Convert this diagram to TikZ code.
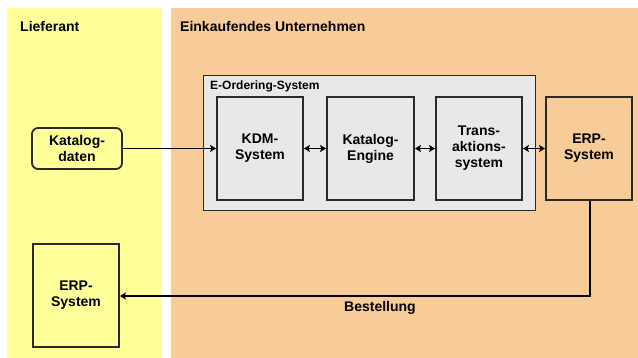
\documentclass[tikz,border=0pt]{standalone}
\usepackage{fontspec}
\setmainfont{Liberation Sans}
\usetikzlibrary{arrows.meta}
\definecolor{supplier}{HTML}{FFFF99}
\definecolor{buyer}{HTML}{F7CC98}
\definecolor{sysgray}{HTML}{E8E8E8}
\definecolor{edge}{HTML}{2A2A2A}
\tikzset{
  sysbox/.style={draw=edge, line width=1.8pt, minimum width=86pt, minimum height=103pt,
    align=center, font=\fontsize{14}{16}\selectfont\bfseries, inner sep=0pt},
  tip/.tip={Stealth[length=6pt,width=7pt,inset=1.2pt]},
  link/.style={draw=black, line width=1.5pt, -tip},
  dlink/.style={draw=black, line width=1.5pt, tip-tip},
  title/.style={anchor=west, font=\fontsize{14}{16}\selectfont\bfseries, inner sep=0pt}
}
\begin{document}
\begin{tikzpicture}[x=1pt, y=-1pt]
\useasboundingbox (0,0) rectangle (638,358);
% swim lanes
\fill[supplier] (7,8) rectangle (162,358);
\fill[buyer] (171,8) rectangle (638,358);
\node[title] (lief) at (20,26) {Lieferant};
\node[title] (eink) at (180,26) {Einkaufendes Unternehmen};
% e-ordering container
\node[draw=edge, line width=1pt, fill=sysgray, minimum width=332pt, minimum height=135pt,
  inner sep=0pt] (eos) at (369,143.5) {};
\node[anchor=west, inner sep=0pt, font=\fontsize{12}{14}\selectfont\bfseries] (eoslbl) at (210,86) {E-Ordering-System};
% systems
\node[sysbox, fill=sysgray] (kdm) at (260,148.5) {KDM-\\System};
\node[sysbox, fill=sysgray, minimum width=87pt] (eng) at (370.5,148.5) {Katalog-\\Engine};
\node[sysbox, fill=sysgray] (trans) at (479,148.5) {Trans-\\aktions-\\system};
\node[sysbox, fill=buyer] (erpb) at (589,148.5) {ERP-\\System};
\node[sysbox, fill=supplier] (erps) at (76,295.5) {ERP-\\System};
\node[draw=edge, line width=1.8pt, fill=supplier, rounded corners=6pt, minimum width=90pt,
  minimum height=41pt, align=center, inner sep=0pt, font=\fontsize{14}{16}\selectfont\bfseries]
  (kat) at (77,148.5) {Katalog-\\daten};
% connectors
\draw[link] (kat.east) -- (kdm.west);
\draw[dlink] (kdm.east) -- (eng.west);
\draw[dlink] (eng.east) -- (trans.west);
\draw[dlink] (trans.east) -- (erpb.west);
\coordinate (turn) at (590,296);
\draw[link] (erpb.south -| turn) -- (turn) -- (erps.east |- turn);
\node[anchor=west, inner sep=0pt, font=\fontsize{14}{16}\selectfont\bfseries] (best) at (344,308) {Bestellung};
\end{tikzpicture}
\end{document}
